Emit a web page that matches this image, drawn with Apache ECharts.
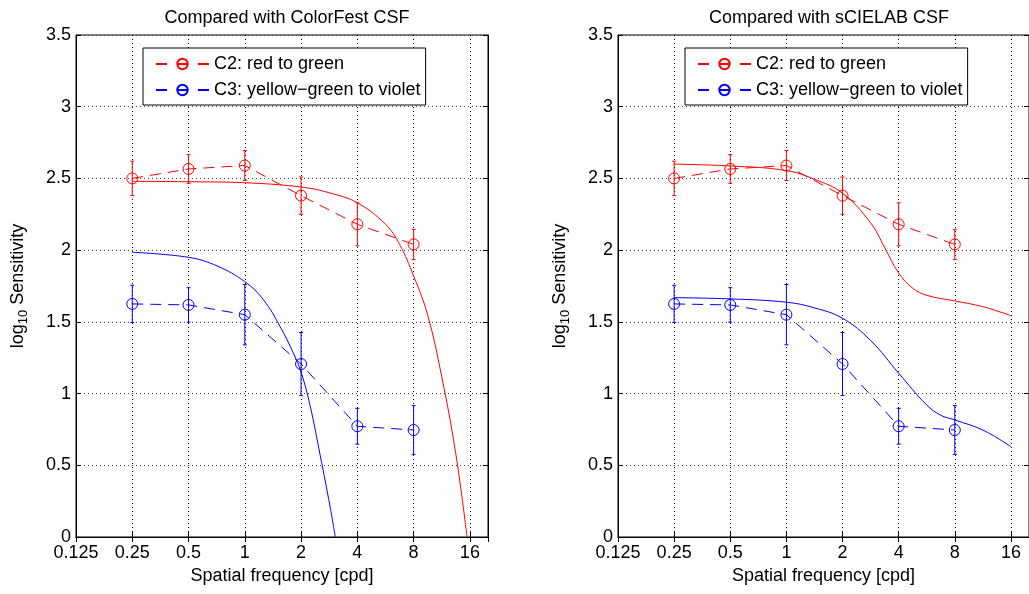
<!DOCTYPE html>
<html>
<head>
<meta charset="utf-8">
<script src="https://cdn.jsdelivr.net/npm/echarts@6/dist/echarts.min.js"></script>
<style>
  html, body { margin: 0; background: #fff; }
  #main { width: 1029px; height: 594px; }
</style>
</head>
<body>
<div id="main"></div>
<script>
// measured points (spatial frequency in cpd, log10 sensitivity)
var freq = [0.25, 0.5, 1, 2, 4, 8];
var c2Mean = [2.50, 2.566, 2.59, 2.38, 2.18, 2.04];
var c2Err = [0.12, 0.10, 0.105, 0.13, 0.15, 0.105];
var c3Mean = [1.625, 1.618, 1.55, 1.206, 0.772, 0.746];
var c3Err = [0.13, 0.12, 0.21, 0.22, 0.125, 0.17];

// fitted CSF curves
var cfRedX = [0.25, 0.5, 1, 2, 2.83, 4, 5.66, 6.73, 8, 9.5, 11.3, 13.45, 15.45];
var cfRedY = [2.48, 2.477, 2.47, 2.44, 2.40, 2.33, 2.18, 2.04, 1.82, 1.55, 1.12, 0.58, 0];
var cfBlueX = [0.25, 0.5, 0.71, 1, 1.26, 1.545, 1.82, 2, 2.24, 2.53, 2.86, 3.05];
var cfBlueY = [1.985, 1.95, 1.89, 1.78, 1.653, 1.467, 1.281, 1.15, 0.91, 0.57, 0.21, 0];
var scRedX = [0.25, 0.5, 1, 1.41, 2, 2.83, 3.36, 4, 4.76, 5.66, 8, 11.3, 16];
var scRedY = [2.60, 2.587, 2.555, 2.495, 2.397, 2.19, 2.02, 1.84, 1.735, 1.685, 1.646, 1.606, 1.543];
var scBlueX = [0.25, 0.5, 1, 1.41, 2, 2.83, 4, 5.66, 6.7, 8, 11.3, 16];
var scBlueY = [1.669, 1.66, 1.637, 1.598, 1.525, 1.37, 1.142, 0.92, 0.85, 0.816, 0.746, 0.63];

var titles = ['Compared with ColorFest CSF', 'Compared with sCIELAB CSF'];
var c2Name = 'C2: red to green';
var c3Name = 'C3: yellow\u2212green to violet';

var FONT = 'Liberation Sans, Arial, Helvetica, sans-serif';
var RED = '#ff0000', BLUE = '#0000ff';
var gridLeft = [76, 618];

function pairs(xs, ys) {
  return xs.map(function (x, i) { return [x, ys[i]]; });
}
function errRows(mean, err) {
  return freq.map(function (f, i) { return [f, mean[i] - err[i], mean[i] + err[i]]; });
}

function errorBar(params, api) {
  var x = api.value(0);
  var lo = api.coord([x, api.value(1)]);
  var hi = api.coord([x, api.value(2)]);
  var st = { stroke: api.visual('color'), lineWidth: 1 };
  var w = 2;
  return {
    type: 'group',
    children: [
      { type: 'line', shape: { x1: lo[0], y1: lo[1], x2: hi[0], y2: hi[1] }, style: st },
      { type: 'line', shape: { x1: lo[0] - w, y1: lo[1], x2: lo[0] + w, y2: lo[1] }, style: st },
      { type: 'line', shape: { x1: hi[0] - w, y1: hi[1], x2: hi[0] + w, y2: hi[1] }, style: st }
    ]
  };
}

var xAxes = [], yAxes = [], grids = [], series = [], legends = [], titleList = [];

[0, 1].forEach(function (g) {
  grids.push({ left: gridLeft[g], top: 35, width: 412, height: 502, show: true,
    borderColor: '#000', borderWidth: 1, backgroundColor: '#fff' });

  titleList.push({ text: titles[g], left: gridLeft[g] + 206, top: 4, textAlign: 'center',
    textStyle: { fontFamily: FONT, fontSize: 18, fontWeight: 'normal', color: '#000' } });

  var tick = { show: true, inside: true, length: 5, lineStyle: { color: '#000' } };
  xAxes.push({
    gridIndex: g, type: 'log', logBase: 2, min: 0.125, max: 20, position: 'bottom',
    name: 'Spatial frequency [cpd]', nameLocation: 'middle', nameGap: 28,
    nameTextStyle: { fontFamily: FONT, fontSize: 18, color: '#000' },
    axisLine: { lineStyle: { color: '#000' } },
    axisTick: tick,
    axisLabel: { margin: 7, fontFamily: FONT, fontSize: 18, color: '#000', showMaxLabel: false,
      formatter: function (v) { return String(v); } },
    splitLine: { show: true, lineStyle: { color: '#000', type: [1, 3] } }
  });
  xAxes.push({
    gridIndex: g, type: 'log', logBase: 2, min: 0.125, max: 20, position: 'top',
    axisLine: { lineStyle: { color: '#000' } }, axisTick: tick,
    axisLabel: { show: false }, splitLine: { show: false }
  });
  yAxes.push({
    gridIndex: g, type: 'value', min: 0, max: 3.5, interval: 0.5, position: 'left',
    name: '{a|log}{b|10}{a| Sensitivity}', nameLocation: 'middle', nameGap: 46,
    nameTextStyle: { color: '#000', rich: {
      a: { fontFamily: FONT, fontSize: 18, color: '#000', lineHeight: 24 },
      b: { fontFamily: FONT, fontSize: 13, color: '#000', lineHeight: 24, verticalAlign: 'bottom' }
    } },
    axisLine: { lineStyle: { color: '#000' } }, axisTick: tick,
    axisLabel: { margin: 5, fontFamily: FONT, fontSize: 18, color: '#000' },
    splitLine: { show: true, lineStyle: { color: '#444', type: [1, 3] } }
  });
  yAxes.push({
    gridIndex: g, type: 'value', min: 0, max: 3.5, interval: 0.5, position: 'right',
    axisLine: { lineStyle: { color: '#000' } }, axisTick: tick,
    axisLabel: { show: false }, splitLine: { show: false }
  });

  var xi = g * 2, yi = g * 2;
  var fitR = g === 0 ? pairs(cfRedX, cfRedY) : pairs(scRedX, scRedY);
  var fitB = g === 0 ? pairs(cfBlueX, cfBlueY) : pairs(scBlueX, scBlueY);

  series.push({ type: 'line', name: 'fit C2 ' + g, xAxisIndex: xi, yAxisIndex: yi, data: fitR,
    showSymbol: false, symbol: 'none', smooth: 0.4,
    lineStyle: { color: RED, width: 1 }, itemStyle: { color: RED }, z: 2, silent: true });
  series.push({ type: 'line', name: 'fit C3 ' + g, xAxisIndex: xi, yAxisIndex: yi, data: fitB,
    showSymbol: false, symbol: 'none', smooth: 0.4,
    lineStyle: { color: BLUE, width: 1 }, itemStyle: { color: BLUE }, z: 2, silent: true });

  [[c2Name, c2Mean, c2Err, RED], [c3Name, c3Mean, c3Err, BLUE]].forEach(function (s) {
    series.push({ type: 'line', name: s[0], xAxisIndex: xi, yAxisIndex: yi,
      data: pairs(freq, s[1]), symbol: 'circle', symbolSize: 11,
      lineStyle: { color: s[3], width: 1, type: [11, 7] },
      itemStyle: { color: 'rgba(0,0,0,0)', borderColor: s[3], borderWidth: 1 }, z: 3 });
    series.push({ type: 'custom', name: s[0] + ' err ' + g, xAxisIndex: xi, yAxisIndex: yi,
      data: errRows(s[1], s[2]), renderItem: errorBar, encode: { x: 0, y: [1, 2] },
      itemStyle: { color: s[3] }, z: 4 });
  });

  legends.push({
    data: [c2Name, c3Name], orient: 'vertical', left: gridLeft[g] + 67, top: 48,
    padding: [7, 5, 6, 12], itemGap: 8, itemWidth: 53, itemHeight: 13,
    backgroundColor: '#fff', borderColor: '#000', borderWidth: 1, borderRadius: 0,
    selectedMode: false,
    lineStyle: { type: [11, 10] },
    textStyle: { fontFamily: FONT, fontSize: 18, color: '#000' }
  });
});

var chart = echarts.init(document.getElementById('main'));
chart.setOption({
  animation: false,
  backgroundColor: '#fff',
  title: titleList,
  grid: grids,
  xAxis: xAxes,
  yAxis: yAxes,
  legend: legends,
  series: series
});
</script>
</body>
</html>
